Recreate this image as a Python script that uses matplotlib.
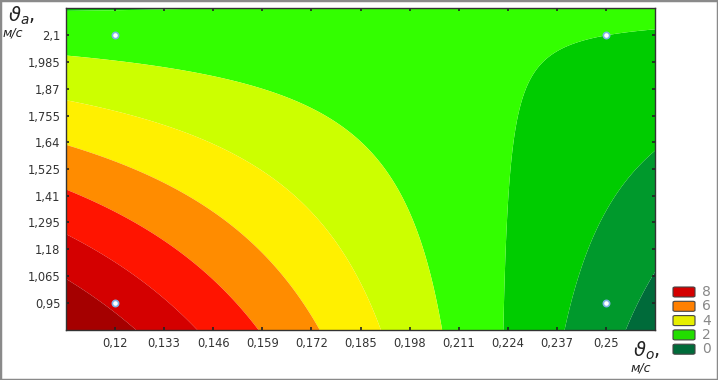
import numpy as np
import matplotlib.pyplot as plt
from matplotlib.patches import Rectangle, FancyBboxPatch

# Design points (2^2 plan) and the response read at each of them
x_pts = [0.12, 0.25, 0.12, 0.25]
y_pts = [0.95, 0.95, 2.1, 2.1]
z_pts = [7.8, 0.48, 2.5, 2.0]

x_ticks = [0.12, 0.133, 0.146, 0.159, 0.172, 0.185, 0.198, 0.211, 0.224, 0.237, 0.25]
x_labels = ["0,12", "0,133", "0,146", "0,159", "0,172", "0,185", "0,198",
            "0,211", "0,224", "0,237", "0,25"]
y_ticks = [0.95, 1.065, 1.18, 1.295, 1.41, 1.525, 1.64, 1.755, 1.87, 1.985, 2.1]
y_labels = ["0,95", "1,065", "1,18", "1,295", "1,41", "1,525", "1,64",
            "1,755", "1,87", "1,985", "2,1"]

# contour levels (one band per unit) and their colours, low -> high
levels = [-10, 0, 1, 2, 3, 4, 5, 6, 7, 8, 20]
band_colors = ["#006b3a", "#00992c", "#00cc00", "#33ff00", "#ccff00",
               "#fff000", "#ff8c00", "#ff1400", "#d40000", "#a50000"]

legend_vals = ["8", "6", "4", "2", "0"]
legend_colors = ["#d40000", "#ff8000", "#e6ee00", "#22dd00", "#006b3a"]

xlim = (0.107, 0.263)
ylim = (0.832, 2.218)

# bilinear model through the four points (same as the stats package does)
xp = np.array(x_pts)
yp = np.array(y_pts)
A = np.column_stack([np.ones(4), xp, yp, xp * yp])
coef = np.linalg.solve(A, np.array(z_pts))

gx = np.linspace(xlim[0], xlim[1], 300)
gy = np.linspace(ylim[0], ylim[1], 300)
X, Y = np.meshgrid(gx, gy)
Z = coef[0] + coef[1] * X + coef[2] * Y + coef[3] * X * Y

fig = plt.figure(figsize=(7.18, 3.8), dpi=100)
ax = fig.add_axes([66 / 718, 50 / 380, 589 / 718, 322 / 380])

ax.contourf(X, Y, Z, levels=levels, colors=band_colors, antialiased=True)
ax.plot(x_pts, y_pts, "o", ms=4.5, mfc="white", mec="#7fb2e5", mew=1.2, ls="none")

ax.set_xlim(xlim)
ax.set_ylim(ylim)
ax.set_xticks(x_ticks)
ax.set_xticklabels(x_labels)
ax.set_yticks(y_ticks)
ax.set_yticklabels(y_labels)
ax.tick_params(direction="in", length=2.5, width=1.2, color="#222222",
               labelsize=8.3, labelcolor="#333333", top=True, right=True, pad=5)
ax.tick_params(axis="y", pad=4)
for s in ax.spines.values():
    s.set_color("#333333")
    s.set_linewidth(1.0)

# axis captions
fig.text(8 / 718, 1 - 16 / 380, r"$\vartheta_{a},$", fontsize=14, va="center", ha="left",
         color="#222222")
fig.text(3 / 718, 1 - 33 / 380, "м/с", fontsize=9, style="italic", va="center", ha="left",
         color="#222222")
fig.text(633 / 718, 1 - 351 / 380, r"$\vartheta_{o},$", fontsize=14, va="center", ha="left",
         color="#222222")
fig.text(631 / 718, 1 - 368 / 380, "м/с", fontsize=9, style="italic", va="center", ha="left",
         color="#222222")

# legend swatches
for i, (lab, col) in enumerate(zip(legend_vals, legend_colors)):
    ytop = 287 + i * 14.3
    fig.patches.append(FancyBboxPatch((673 / 718, 1 - (ytop + 10) / 380), 22 / 718, 10 / 380,
                                      boxstyle="round,pad=0,rounding_size=0.003",
                                      transform=fig.transFigure, fc=col, ec="#444444", lw=0.8))
    fig.text(702 / 718, 1 - (ytop + 5) / 380, lab, fontsize=10, color="#888888",
             va="center", ha="left")

# outer frame of the picture
fig.patches.append(Rectangle((0, 0), 1, 1, transform=fig.transFigure, fill=False,
                             ec="#8a8a8a", lw=2.5))

fig.savefig("out.png", dpi=100)
